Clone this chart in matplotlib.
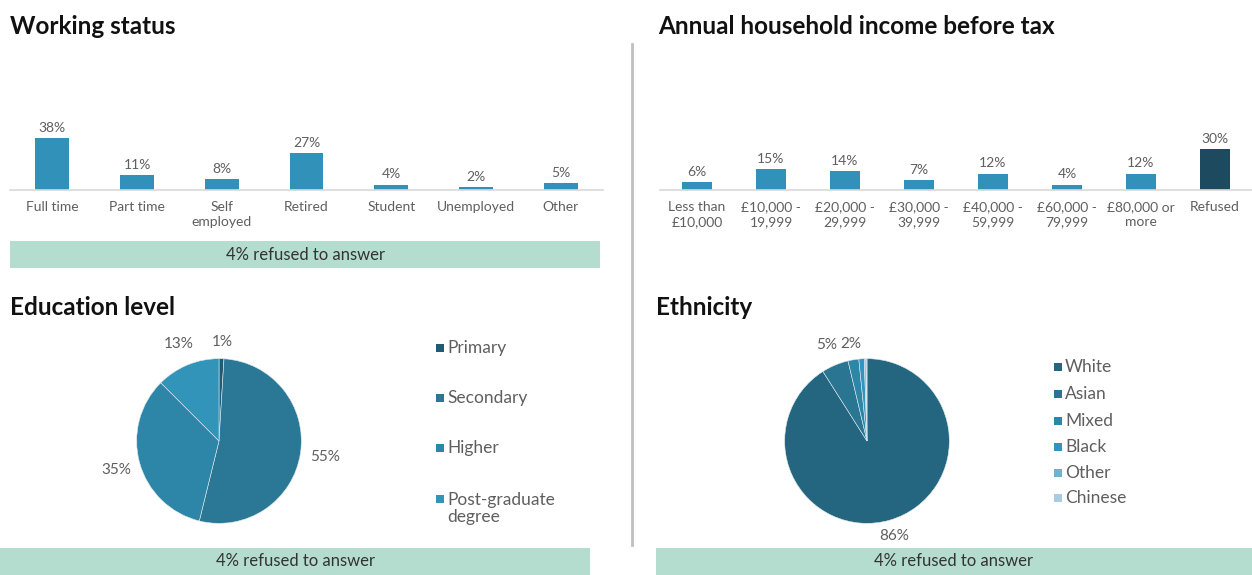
import matplotlib
matplotlib.use('Agg')
import matplotlib.pyplot as plt
from matplotlib.patches import Rectangle
import numpy as np

plt.rcParams['font.family'] = ['Lato', 'DejaVu Sans']

# survey breakdowns (%)
work_labels = ['Full time', 'Part time', 'Self\nemployed', 'Retired', 'Student', 'Unemployed', 'Other']
work_values = [38, 11, 8, 27, 4, 2, 5]

income_labels = ['Less than\n£10,000', '£10,000 -\n19,999', '£20,000 -\n29,999', '£30,000 -\n39,999',
                 '£40,000 -\n59,999', '£60,000 -\n79,999', '£80,000 or\nmore', 'Refused']
income_values = [6, 15, 14, 7, 12, 4, 12, 30]

edu_labels = ['Primary', 'Secondary', 'Higher', 'Post-graduate\ndegree']
edu_values = [1, 55, 35, 13]

eth_labels = ['White', 'Asian', 'Mixed', 'Black', 'Other', 'Chinese']
eth_values = [86, 5, 2, 1, 0.3, 0.2]
eth_shown = ['86%', '5%', '2%', '', '', '']

refused_note = '4% refused to answer'

W, H = 1252, 575
fig = plt.figure(figsize=(W / 100, H / 100), dpi=100)
fig.patch.set_facecolor('white')

GREY = '#5f5f5f'
BAR = '#3291b8'
DARK = '#1d4a5e'
MINT = '#b4ddd0'


def px_axes(x0, y0, x1, y1):
    # axes from pixel box (top-left origin)
    return fig.add_axes([x0 / W, 1 - y1 / H, (x1 - x0) / W, (y1 - y0) / H])


def title(x, y, s):
    fig.text(x / W, 1 - y / H, s, fontsize=17.5, fontweight='bold', color='#111111',
             ha='left', va='center')


def note_box(x0, y0, x1, y1):
    fig.patches.append(Rectangle((x0 / W, 1 - y1 / H), (x1 - x0) / W, (y1 - y0) / H,
                                 transform=fig.transFigure, facecolor=MINT, edgecolor='none'))
    fig.text((x0 + x1) / 2 / W, 1 - (y0 + y1) / 2 / H, refused_note, fontsize=12,
             color='#333333', ha='center', va='center')


def bar_panel(ax, labels, values, colors, width):
    x = np.arange(len(values))
    bars = ax.bar(x, values, width=width, color=colors)
    for b, v in zip(bars, values):
        ax.text(b.get_x() + b.get_width() / 2, v + 3, f'{v}%', ha='center', va='bottom',
                fontsize=10, color=GREY)
    ax.set_xlim(-0.5, len(values) - 0.5)
    ax.set_ylim(0, 95)
    ax.set_xticks(x)
    ax.set_xticklabels(labels, fontsize=10, color=GREY, linespacing=1.3)
    ax.tick_params(axis='x', length=0, pad=8)
    ax.set_yticks([])
    for s in ['top', 'right', 'left']:
        ax.spines[s].set_visible(False)
    ax.spines['bottom'].set_color('#d9d9d9')
    ax.spines['bottom'].set_linewidth(1.2)
    ax.patch.set_alpha(0)


def pie_panel(ax, values, colors, texts, dist):
    wedges, _ = ax.pie(values, colors=colors, startangle=90, counterclock=False,
                       wedgeprops=dict(linewidth=0.4, edgecolor='#dfeaef'))
    ax.set_xlim(-1.02, 1.02)
    ax.set_ylim(-1.02, 1.02)
    for w, t, d in zip(wedges, texts, dist):
        if not t:
            continue
        a = np.deg2rad((w.theta1 + w.theta2) / 2)
        ax.text(d * np.cos(a), d * np.sin(a), t, ha='center', va='center',
                fontsize=11, color=GREY)
    return wedges


def legend(x, ys, labels, colors, size=8):
    for y, lab, c in zip(ys, labels, colors):
        fig.patches.append(Rectangle(((x) / W, 1 - (y + size / 2) / H), size / W, size / H,
                                     transform=fig.transFigure, facecolor=c, edgecolor='none'))
        # square sits beside the first line of a wrapped label
        ty = y + 9.5 * lab.count('\n')
        fig.text((x + size + 3) / W, 1 - ty / H, lab, fontsize=12.5, color=GREY,
                 ha='left', va='center', linespacing=1.15)


# working status
title(10, 27, 'Working status')
ax1 = px_axes(10, 60, 603, 190)
bar_panel(ax1, work_labels, work_values, BAR, 0.4)
note_box(10, 241, 600, 268)

# income
title(658, 27, 'Annual household income before tax')
ax2 = px_axes(660, 60, 1252, 190)
bar_panel(ax2, income_labels, income_values, [BAR] * 7 + [DARK], 0.41)

# divider
fig.add_artist(plt.Line2D([632 / W, 632 / W], [1 - 44 / H, 1 - 545 / H],
                          transform=fig.transFigure, color='#c0c0c0', linewidth=2))

# education
title(10, 308, 'Education level')
edu_colors = ['#1f5b72', '#2a7895', '#2d86a7', '#3394ba']
ax3 = px_axes(219 - 84, 441 - 84, 219 + 84, 441 + 84)
pie_panel(ax3, edu_values, edu_colors, [f'{v}%' for v in edu_values], [1.2, 1.3, 1.3, 1.27])
legend(436, [348, 398, 448, 499], edu_labels, edu_colors)
note_box(0, 548, 590, 575)

# ethnicity
title(656, 308, 'Ethnicity')
eth_colors = ['#246680', '#2a7592', '#2c86a6', '#3395bd', '#74b0cd', '#a8cde0']
ax4 = px_axes(867 - 84, 441 - 84, 867 + 84, 441 + 84)
pie_panel(ax4, eth_values, eth_colors, eth_shown, [1.2, 1.27, 1.2, 1, 1, 1])
legend(1054, [367, 394, 421, 447, 473, 498], eth_labels, eth_colors)
note_box(656, 548, 1252, 575)

fig.savefig('out.png', dpi=100, facecolor='white')
